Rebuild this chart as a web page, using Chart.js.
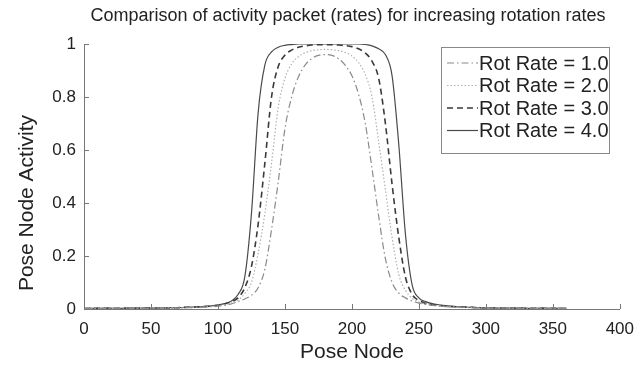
<!DOCTYPE html>
<html><head><meta charset="utf-8">
<script src="https://cdn.jsdelivr.net/npm/chart.js@4.4.0/dist/chart.umd.min.js"></script>
<style>html,body{margin:0;padding:0;background:#fff}#wrap{width:644px;height:366px;position:relative}</style>
</head><body><div id="wrap"><canvas id="c"></canvas></div>
<script>
const chartTitle = 'Comparison of activity packet (rates) for increasing rotation rates';
const xTitle = 'Pose Node';
const yTitle = 'Pose Node Activity';
const seriesLabels = ['Rot Rate = 1.0', 'Rot Rate = 2.0', 'Rot Rate = 3.0', 'Rot Rate = 4.0'];
const nodes = [0,5,10,15,20,25,30,35,40,45,50,55,60,65,70,75,80,85,90,95,100,105,110,115,120,125,130,135,140,145,150,155,160,165,170,175,180,185,190,195,200,205,210,215,220,225,230,235,240,245,250,255,260,265,270,275,280,285,290,295,300,305,310,315,320,325,330,335,340,345,350,355,360];
const rate1 = [0.002,0.002,0.002,0.002,0.003,0.002,0.003,0.003,0.003,0.002,0.003,0.003,0.003,
  0.004,0.004,0.005,0.005,0.006,0.007,
  0.009,0.011,0.014,0.019,0.028,0.038,0.052,0.08,0.15,0.30,0.48,0.68,0.80,0.875,0.92,0.945,0.957,0.96,
  0.957,0.945,0.92,0.88,0.81,0.70,0.53,0.35,0.19,0.10,0.06,0.042,0.03,0.022,0.017,0.014,0.011,
  0.009,0.008,0.007,0.006,0.005,0.004,0.004,0.003,0.003,0.003,0.002,0.003,0.002,0.003,0.002,0.002,0.002,0.002,0.002];
const rate2 = [0.002,0.002,0.002,0.003,0.002,0.003,0.003,0.003,0.002,0.003,0.003,0.003,0.004,
  0.004,0.004,0.005,0.006,0.007,0.008,
  0.010,0.012,0.016,0.022,0.033,0.058,0.10,0.21,0.36,0.55,0.76,0.87,0.925,0.952,0.967,0.975,0.978,0.98,
  0.978,0.975,0.968,0.955,0.93,0.885,0.80,0.63,0.45,0.27,0.13,0.07,0.04,0.026,0.019,0.015,0.012,
  0.010,0.008,0.007,0.006,0.005,0.004,0.004,0.003,0.003,0.003,0.002,0.003,0.002,0.003,0.002,0.002,0.002,0.002,0.002];
const rate3 = [0.002,0.002,0.003,0.002,0.003,0.003,0.003,0.002,0.003,0.003,0.004,0.003,0.004,
  0.004,0.005,0.006,0.007,0.008,0.009,
  0.011,0.014,0.019,0.027,0.042,0.08,0.16,0.32,0.55,0.80,0.915,0.958,0.977,0.988,0.993,0.996,0.997,0.997,
  0.997,0.996,0.994,0.99,0.982,0.966,0.935,0.87,0.70,0.47,0.27,0.12,0.055,0.032,0.022,0.017,0.013,
  0.011,0.009,0.008,0.007,0.006,0.005,0.004,0.004,0.004,0.003,0.003,0.003,0.002,0.003,0.003,0.002,0.003,0.002,0.002];
const rate4 = [0.002,0.003,0.002,0.003,0.003,0.002,0.003,0.004,0.003,0.004,0.003,0.004,0.004,
  0.005,0.005,0.006,0.007,0.008,0.010,
  0.012,0.015,0.020,0.030,0.055,0.12,0.36,0.74,0.92,0.97,0.988,0.995,0.998,1.0,1.0,1.0,1.0,1.0,
  1.0,1.0,1.0,1.0,1.0,0.998,0.993,0.982,0.96,0.88,0.62,0.28,0.09,0.042,0.028,0.02,0.016,
  0.013,0.010,0.008,0.007,0.006,0.005,0.004,0.004,0.003,0.004,0.003,0.004,0.003,0.002,0.003,0.003,0.002,0.003,0.002];
const xTickValues = [0,50,100,150,200,250,300,350,400];
const yTickValues = [0,0.2,0.4,0.6,0.8,1];

const seriesValues = [rate1, rate2, rate3, rate4];
const styles = [
  {color:'#8a8a8a', dash:[7,3,1.5,3], width:1.2},
  {color:'#b0b0b0', dash:[1.5,2], width:1.2},
  {color:'#3a3a3a', dash:[6,4], width:1.6},
  {color:'#4a4a4a', dash:[], width:1.2}
];
const datasets = seriesValues.map((vals, k) => ({
  label: seriesLabels[k],
  data: nodes.map((n, i) => ({x: n, y: vals[i]})),
  borderColor: styles[k].color,
  borderDash: styles[k].dash,
  borderWidth: styles[k].width,
  pointRadius: 0,
  fill: false,
  cubicInterpolationMode: 'monotone'
}));

const FONT = '"Liberation Sans", Arial, sans-serif';

const decor = {
  id: 'decor',
  afterDatasetsDraw(chart) {
    const {ctx, chartArea: a, scales: {x, y}} = chart;
    ctx.save();
    ctx.strokeStyle = '#777';
    ctx.lineWidth = 1;
    ctx.setLineDash([]);
    ctx.beginPath();
    xTickValues.forEach(v => { const p = Math.round(x.getPixelForValue(v)) + 0.5; ctx.moveTo(p, a.bottom); ctx.lineTo(p, a.bottom - 5); });
    yTickValues.forEach(v => { const p = Math.round(y.getPixelForValue(v)) + 0.5; ctx.moveTo(a.left, p); ctx.lineTo(a.left + 5, p); });
    ctx.stroke();
    ctx.fillStyle = '#222';
    ctx.font = '18px ' + FONT;
    ctx.textAlign = 'center';
    ctx.textBaseline = 'middle';
    ctx.fillText(chartTitle, 348, 16);
    ctx.save();
    ctx.translate(27, 203);
    ctx.rotate(-Math.PI / 2);
    ctx.font = '21px ' + FONT;
    ctx.fillText(yTitle, 0, 0);
    ctx.restore();
    const bx = 441, by = 47, bw = 168, bh = 106;
    ctx.fillStyle = '#fff';
    ctx.fillRect(bx, by, bw, bh);
    ctx.strokeStyle = '#888';
    ctx.lineWidth = 1;
    ctx.strokeRect(bx + 0.5, by + 0.5, bw, bh);
    const rows = [63, 85.5, 108, 130.5];
    chart.data.datasets.forEach((ds, k) => {
      const yy = rows[k];
      ctx.strokeStyle = ds.borderColor;
      ctx.lineWidth = ds.borderWidth;
      ctx.setLineDash(ds.borderDash);
      ctx.beginPath();
      ctx.moveTo(447, yy); ctx.lineTo(478, yy);
      ctx.stroke();
      ctx.setLineDash([]);
      ctx.fillStyle = '#222';
      ctx.font = '20px ' + FONT;
      ctx.textAlign = 'left';
      ctx.textBaseline = 'middle';
      ctx.fillText(ds.label, 479, yy + 1);
    });
    ctx.restore();
  }
};

new Chart(document.getElementById('c'), {
  type: 'line',
  data: { datasets },
  options: {
    responsive: true,
    maintainAspectRatio: false,
    animation: false,
    layout: { padding: { top: 44, right: 24, left: 0, bottom: 0 } },
    plugins: { legend: { display: false }, tooltip: { enabled: false }, title: { display: false } },
    scales: {
      x: {
        type: 'linear', min: 0, max: 400,
        afterBuildTicks: s => { s.ticks = xTickValues.map(v => ({value: v})); },
        afterFit: s => { s.height = 57; },
        grid: { display: false, drawTicks: false },
        border: { display: true, color: '#777', width: 1 },
        ticks: { font: { family: FONT, size: 17 }, color: '#222', padding: 10, maxRotation: 0 },
        title: { display: true, text: xTitle, font: { family: FONT, size: 21 }, color: '#222', padding: { top: 0, bottom: 1 } }
      },
      y: {
        min: 0, max: 1,
        afterBuildTicks: s => { s.ticks = yTickValues.map(v => ({value: v})); },
        afterFit: s => { s.width = 84; },
        grid: { display: false, drawTicks: false },
        border: { display: true, color: '#777', width: 1 },
        ticks: { font: { family: FONT, size: 17 }, color: '#222', padding: 8, callback: v => String(v) }
      }
    }
  },
  plugins: [decor]
});
</script></body></html>
